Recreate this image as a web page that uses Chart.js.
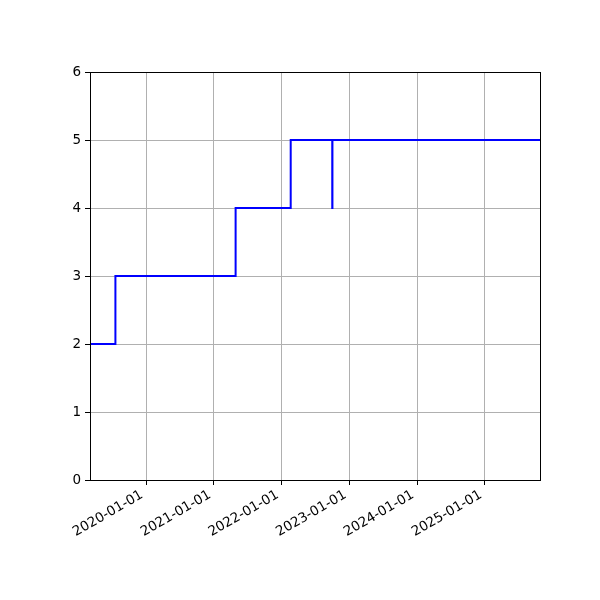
<!DOCTYPE html>
<html lang="en">
<head>
    <meta charset="UTF-8">
    <title>Step chart</title>
    <script src="https://cdn.jsdelivr.net/npm/chart.js"></script>
    <style>
        html, body { margin: 0; padding: 0; background: #fff; }
        #wrap { width: 600px; height: 600px; }
    </style>
</head>
<body>
    <div id="wrap"><canvas id="stepChart" width="600" height="600"></canvas></div>
    <script>
// values (step changes, held until the next date)
const stepDates = ['2019-03-05', '2019-07-20', '2021-04-28', '2022-02-19', '2022-10-01', '2022-10-02', '2025-10-25'];
const stepValues = [2, 3, 4, 5, 4, 5, 5];
const xTickDates = ['2020-01-01', '2021-01-01', '2022-01-01', '2023-01-01', '2024-01-01', '2025-01-01'];
const yTickValues = [0, 1, 2, 3, 4, 5, 6];

const toMs = (s) => Date.parse(s + 'T00:00:00Z');
const fmtDate = (v) => new Date(v).toISOString().slice(0, 10);

document.addEventListener('DOMContentLoaded', () => {
  const ctx = document.getElementById('stepChart').getContext('2d');
  const points = stepDates.map((d, i) => ({ x: toMs(d), y: stepValues[i] }));
  const font = { family: 'DejaVu Sans', size: 13.5 };

  // top and right spines like matplotlib
  const frame = {
    id: 'frame',
    afterDraw: (chart) => {
      const a = chart.chartArea;
      const c = chart.ctx;
      c.save();
      c.strokeStyle = '#000';
      c.lineWidth = 1;
      c.strokeRect(Math.round(a.left) + 0.5, Math.round(a.top) + 0.5, Math.round(a.right - a.left), Math.round(a.bottom - a.top));
      c.restore();
    }
  };

  new Chart(ctx, {
    type: 'line',
    data: {
      datasets: [{
        data: points,
        stepped: 'before',
        borderColor: '#0000ff',
        borderWidth: 2,
        pointRadius: 0,
        fill: false
      }]
    },
    options: {
      responsive: false,
      animation: false,
      layout: { padding: { top: 72, right: 60, left: 0, bottom: 0 } },
      plugins: { legend: { display: false }, tooltip: { enabled: false } },
      scales: {
        x: {
          type: 'linear',
          min: toMs(stepDates[0]),
          max: toMs(stepDates[stepDates.length - 1]),
          afterBuildTicks: (axis) => { axis.ticks = xTickDates.map(d => ({ value: toMs(d) })); },
          afterFit: (axis) => { axis.height = 120; },
          ticks: {
            autoSkip: false,
            minRotation: 30,
            maxRotation: 30,
            padding: 2,
            labelOffset: -4,
            color: '#000',
            font: font,
            callback: (v) => fmtDate(v)
          },
          grid: { color: '#b0b0b0', lineWidth: 1, tickColor: '#000', tickLength: 5 },
          border: { color: '#000', width: 1 }
        },
        y: {
          min: yTickValues[0],
          max: yTickValues[yTickValues.length - 1],
          afterBuildTicks: (axis) => { axis.ticks = yTickValues.map(v => ({ value: v })); },
          afterFit: (axis) => { axis.width = 90; },
          ticks: { padding: 4, color: '#000', font: font },
          grid: { color: '#b0b0b0', lineWidth: 1, tickColor: '#000', tickLength: 5 },
          border: { color: '#000', width: 1 }
        }
      }
    },
    plugins: [frame]
  });
});
    </script>
</body>
</html>
